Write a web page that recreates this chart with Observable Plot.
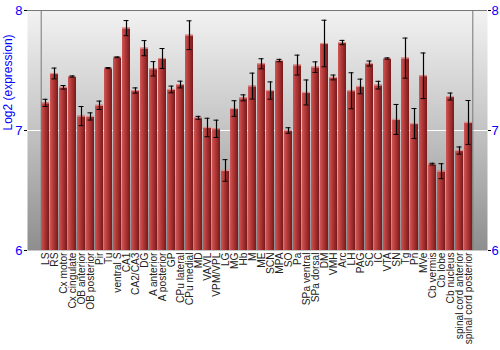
<!DOCTYPE html>
<html>
<head>
<meta charset="utf-8">
<script src="https://cdn.jsdelivr.net/npm/d3@7"></script>
<script src="https://cdn.jsdelivr.net/npm/@observablehq/plot@0.6"></script>
<style>
  html, body { margin: 0; padding: 0; background: #fff; }
</style>
</head>
<body>
<div id="chart"></div>
<script>
const regions = ["LS","RS","Cx motor","Cx cingulate","OB anterior","OB posterior","Pir","Tu","ventral S","CA1","CA2/CA3","DG","A anterior","A posterior","GP","CPu lateral","CPu medial","MD","VA/VL","VPM/VPL","LG","MG","Hb","M","ME","SCN","MPA","SO","Pa","SPa ventral","SPa dorsal","DM","VMH","Arc","LH","PAG","SC","IC","VTA","SN","Tg","Pn","MVe","Cb vermis","Cb lobe","Cb nucleus","spinal cord anterior","spinal cord posterior"];
const expression = [7.23,7.475,7.36,7.45,7.12,7.117,7.21,7.52,7.61,7.853,7.333,7.686,7.514,7.6,7.342,7.383,7.794,7.106,7.025,7.014,6.667,7.183,7.272,7.37,7.556,7.333,7.583,7.0,7.545,7.317,7.528,7.725,7.442,7.733,7.331,7.367,7.558,7.378,7.6,7.092,7.603,7.058,7.456,6.72,6.661,7.283,6.833,7.067];
const errors = [0.03,0.045,0.015,0.005,0.08,0.03,0.035,0.004,0.003,0.063,0.022,0.063,0.06,0.083,0.028,0.028,0.12,0.012,0.077,0.072,0.09,0.065,0.025,0.108,0.042,0.072,0.01,0.023,0.083,0.104,0.044,0.194,0.02,0.018,0.15,0.061,0.021,0.032,0.005,0.125,0.167,0.125,0.19,0.007,0.0625,0.029,0.03,0.183];
const yTicks = [6, 7, 8];
const yLabel = "Log2 (expression)";

const data = regions.map((name, i) => ({name, v: expression[i], e: errors[i]}));

const chart = Plot.plot({
  width: 500,
  height: 350,
  marginLeft: 27,
  marginRight: 13,
  marginTop: 10,
  marginBottom: 100,
  style: {fontFamily: "'Liberation Sans', Arial, sans-serif", fontSize: "11px", background: "#fff"},
  x: {type: "band", domain: regions, padding: 0.1, align: 0.5},
  y: {domain: [6, 8]},
  marks: [
    Plot.frame({fill: "url(#bgGrad)", stroke: "none"}),
    Plot.ruleY([7], {stroke: "#fff", strokeWidth: 1.2}),
    Plot.barY(data, {x: "name", y1: 6, y2: "v", fill: "url(#barGrad)"}),
    Plot.tickY(data, {x: "name", y: "v", stroke: "#e09090", strokeWidth: 1.2}),
    Plot.ruleX(data, {x: "name", y1: d => d.v - d.e, y2: d => d.v + d.e, stroke: "#000", strokeWidth: 1.2}),
    Plot.tickY(data, {x: "name", y: d => d.v - d.e, stroke: "#000", insetLeft: 1.5, insetRight: 1.5}),
    Plot.tickY(data, {x: "name", y: d => d.v + d.e, stroke: "#000", insetLeft: 1.5, insetRight: 1.5}),
    Plot.ruleY([8], {stroke: "#777"}),
    Plot.ruleX([regions[0]], {stroke: "#777", dx: -4.3, y1: 6, y2: 8}),
    Plot.ruleX([regions[regions.length - 1]], {stroke: "#777", dx: 4.3, y1: 6, y2: 8}),
    Plot.axisY({anchor: "left", ticks: yTicks, tickFormat: d3.format("d"), tickSize: 3, tickPadding: 2, stroke: "#000", fill: "#0000ff", fontSize: 13, label: null}),
    Plot.axisY({anchor: "right", ticks: yTicks, tickFormat: d3.format("d"), tickSize: 3, tickPadding: 1, stroke: "#000", fill: "#0000ff", fontSize: 13, label: null}),
    Plot.axisX({tickRotate: -90, tickSize: 0, tickPadding: 2, fontSize: 10.2, fill: "#222", label: null}),
    Plot.text([yLabel], {frameAnchor: "left", rotate: -90, dx: -19, fill: "#0000ff", fontSize: 12})
  ]
});

const ns = "http://www.w3.org/2000/svg";
const defs = document.createElementNS(ns, "defs");
defs.innerHTML = `
  <linearGradient id="bgGrad" x1="0" y1="0" x2="0" y2="1">
    <stop offset="0" stop-color="#f2f2f2"/>
    <stop offset="0.45" stop-color="#c8c8c8"/>
    <stop offset="1" stop-color="#8e8e8e"/>
  </linearGradient>
  <linearGradient id="barGrad" x1="0" y1="0" x2="1" y2="0">
    <stop offset="0" stop-color="#cf5656"/>
    <stop offset="0.45" stop-color="#b03636"/>
    <stop offset="1" stop-color="#761a1a"/>
  </linearGradient>`;
chart.insertBefore(defs, chart.firstChild);
document.getElementById("chart").appendChild(chart);
</script>
</body>
</html>
